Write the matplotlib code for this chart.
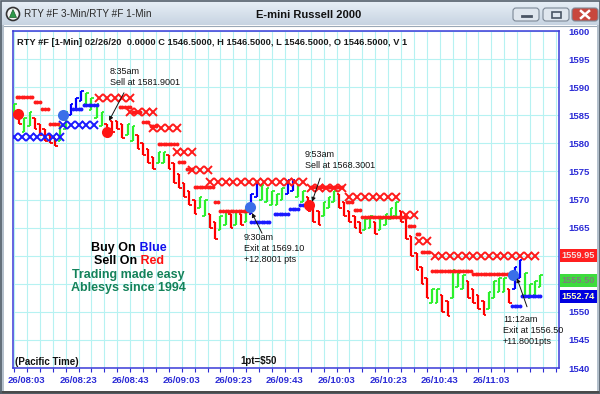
import numpy as np
import matplotlib
matplotlib.use("Agg")
import matplotlib.pyplot as plt
from matplotlib.patches import Rectangle, FancyBboxPatch, Circle, Polygon
from matplotlib.colors import LinearSegmentedColormap

plt.rcParams['font.family'] = ['Liberation Sans', 'DejaVu Sans']

# ---- data (time = minutes after 08:00, one bar every 2 minutes) ----
bar_t = list(range(-2, 203, 2))
bar_lo = [1585.0, 1583.5, 1582.0, 1583.0, 1582.5, 1581.5, 1580.5, 1580.0, 1579.5, 1580.5,
          1582.5, 1585.0, 1586.0, 1587.5, 1587.0, 1586.0, 1584.5, 1583.0, 1581.5, 1582.0,
          1582.5, 1581.0, 1581.5, 1580.5, 1579.0, 1578.0, 1576.5, 1575.5, 1576.5, 1576.5,
          1575.5, 1573.0, 1572.0, 1570.5, 1569.0, 1567.5, 1568.5, 1567.0, 1565.0, 1563.0,
          1564.5, 1565.5, 1565.0, 1565.5, 1565.5, 1566.0, 1567.5, 1570.5, 1570.0, 1569.5,
          1569.0, 1569.0, 1570.0, 1571.0, 1571.5, 1570.5, 1569.5, 1568.0, 1566.0, 1565.5,
          1567.0, 1568.5, 1569.5, 1568.5, 1567.0, 1566.0, 1565.0, 1564.0, 1564.5, 1565.0,
          1563.8, 1564.5, 1565.5, 1566.5, 1567.0, 1566.0, 1563.0, 1560.0, 1557.5, 1555.0,
          1552.5, 1551.5, 1551.5, 1550.0, 1549.3, 1552.5, 1554.5, 1554.0, 1552.5, 1551.5,
          1550.5, 1549.5, 1550.5, 1552.5, 1553.5, 1553.5, 1551.5, 1554.0, 1556.0, 1553.0,
          1552.5, 1553.0, 1554.5]
bar_hi = [1587.0, 1586.0, 1584.5, 1585.5, 1584.5, 1583.5, 1582.5, 1581.5, 1581.0, 1583.0,
          1585.5, 1587.0, 1588.0, 1589.3, 1589.0, 1588.0, 1587.0, 1585.5, 1583.5, 1584.0,
          1584.0, 1583.5, 1583.5, 1583.0, 1581.5, 1580.0, 1579.0, 1577.5, 1578.5, 1578.5,
          1578.0, 1576.5, 1574.5, 1573.0, 1571.5, 1570.0, 1570.5, 1570.0, 1567.5, 1566.0,
          1567.0, 1568.0, 1567.5, 1568.0, 1567.5, 1568.5, 1571.0, 1573.0, 1572.5, 1572.0,
          1571.5, 1571.0, 1572.0, 1573.5, 1573.5, 1572.5, 1571.5, 1570.5, 1568.5, 1568.0,
          1569.5, 1570.5, 1571.5, 1571.0, 1569.5, 1568.0, 1567.0, 1566.0, 1566.5, 1567.0,
          1566.0, 1566.5, 1567.5, 1568.5, 1569.5, 1568.0, 1567.0, 1563.5, 1560.5, 1558.0,
          1556.0, 1554.0, 1554.0, 1553.0, 1552.0, 1557.5, 1557.0, 1556.5, 1555.5, 1554.0,
          1553.0, 1552.0, 1553.5, 1555.5, 1556.0, 1556.0, 1554.0, 1558.0, 1559.3, 1557.0,
          1555.0, 1555.5, 1556.5]
bar_col = ("grggrrrrrg" "gbbbggggrr" "rrggrrrrgg" "rrrrrrggrr" "ggrgrgbbgg"
           "gggbbggrrr" "gggrrrrrgg" "rggggrrrrr" "rggrrgggrr" "rrggggrbbg" "ggg")

# trailing stops drawn as X marks (start, end, level), every 3 minutes
red_x = [(31, 43, 1588.1), (43, 52, 1585.5), (52, 61, 1582.8), (61, 67, 1578.5),
         (67, 73, 1575.2), (74, 112, 1573.2), (113, 127, 1572.1), (128, 147, 1570.5),
         (150, 154, 1567.3), (155, 160, 1562.6), (161, 202, 1559.95)]
blue_x = [(-2, 16, 1581.2), (17, 31, 1583.3)]

# dotted stop lines (start, end, level), every minute
red_dots = [(-1, 5, 1588.3), (6, 8, 1587.3), (9, 11, 1586.2), (12, 15, 1583.5),
            (39, 43, 1586.4), (44, 47, 1585.6), (48, 50, 1583.8), (51, 53, 1583.0),
            (54, 61, 1579.8), (62, 64, 1576.7), (65, 67, 1575.5), (68, 75, 1572.2),
            (76, 77, 1569.5), (78, 89, 1567.9), (113, 125, 1572.3), (127, 129, 1569.5),
            (130, 132, 1568.2), (133, 150, 1566.8), (151, 153, 1565.3), (154, 155, 1563.8),
            (156, 159, 1560.6), (160, 175, 1557.2), (176, 191, 1556.7)]
blue_dots = [(21, 24, 1586.2), (25, 30, 1586.8), (90, 97, 1566.0), (99, 104, 1567.4),
             (105, 108, 1568.3), (109, 112, 1569.0), (191, 194, 1551.0), (195, 202, 1552.74)]

# entry / exit signals
sig_t = [-0.5, 17, 34, 89.5, 112.5, 191.5]
sig_p = [1585.2, 1585.0, 1582.0, 1568.6, 1569.0, 1556.6]
sig_c = ['r', 'b', 'r', 'b', 'r', 'b']

notes = ["8:35am\nSell at 1581.9001",
         "9:30am\nExit at 1569.10\n+12.8001 pts",
         "9:53am\nSell at 1568.3001",
         "11:12am\nExit at 1556.50\n+11.8001pts"]

xlab = ['26/08:03', '26/08:23', '26/08:43', '26/09:03', '26/09:23',
        '26/09:43', '26/10:03', '26/10:23', '26/10:43', '26/11:03']
yticks = [1540, 1545, 1550, 1555, 1560, 1565, 1570, 1575, 1580, 1585, 1590, 1595, 1600]
hidden_ylab = [1555, 1560]   # covered by the value tags

tags = [1559.95, 1555.50, 1552.74]
tag_bg = ['#ff1f1f', '#3ddc3d', '#0000e0']
tag_fg = ['#f3dede', '#7d7d7d', '#ffffc0']

COL = {'r': '#ff0000', 'g': '#2bf02b', 'b': '#0000ff'}
AXBLUE = '#2b2bd6'

fig = plt.figure(figsize=(6, 3.94), dpi=100)
fig.patch.set_facecolor('white')
ax = fig.add_axes([13 / 600, 1 - 368 / 394, 546 / 600, 337 / 394])

# bars: vertical range with open/close ticks
for t, lo, hi, c in zip(bar_t, bar_lo, bar_hi, bar_col):
    col = COL[c]
    op, cl = (hi, lo) if c == 'r' else (lo, hi)
    ax.vlines(t, lo, hi, color=col, lw=1.6, zorder=3)
    ax.hlines(op, t - 1.0, t, color=col, lw=1.3, zorder=3)
    ax.hlines(cl, t, t + 1.0, color=col, lw=1.3, zorder=3)

for segs, col in [(red_x, '#ff1a1a'), (blue_x, '#1a1aff')]:
    for a, b, lev in segs:
        xs = np.arange(a, b + 0.1, 3)
        ax.plot(xs, [lev] * len(xs), ls='none', marker='x', ms=5.5, mew=1.4,
                color=col, zorder=4)

for segs, col in [(red_dots, '#ff1a1a'), (blue_dots, '#1a1aff')]:
    for a, b, lev in segs:
        xs = np.arange(a, b + 0.1, 1)
        ax.plot(xs, [lev] * len(xs), ls='none', marker='o', ms=2.8, mew=0,
                color=col, zorder=4)

sig_col = {'r': '#ff1414', 'b': '#3a6fe8'}
for t, p, c in zip(sig_t, sig_p, sig_c):
    ax.plot(t, p, 'o', ms=8, mew=0, color=sig_col[c], zorder=6)

# annotations: (text pos, arrow tail, arrow head) in data coords
note_pos = [(35.2, 1593.6), (87.1, 1564.0), (110.8, 1578.8), (187.5, 1549.4)]
arrow_tail = [(40.6, 1589.0), (94.1, 1564.0), (116.6, 1573.8), (196.8, 1550.9)]
arrow_head = [(34.8, 1584.0), (90.2, 1567.6), (113.5, 1569.6), (192.9, 1556.0)]
for txt, pos, tail, head in zip(notes, note_pos, arrow_tail, arrow_head):
    ax.text(pos[0], pos[1], txt, fontsize=6.5, va='top', ha='left',
            linespacing=1.3, color='#111111', zorder=7)
    ax.annotate('', xy=head, xytext=tail,
                arrowprops=dict(arrowstyle='-|>', color='#111111', lw=0.7,
                                mutation_scale=6, shrinkA=0, shrinkB=0), zorder=7)

ax.set_xlim(-2.4, 209.2)
ax.set_ylim(1540, 1600)

xpos = [(int(s[3:5]) - 8) * 60 + int(s[6:8]) for s in xlab]
ax.set_xticks(xpos)
ax.set_xticklabels(xlab)
ax.set_xticks(np.arange(-2, 209, 5), minor=True)
ax.tick_params(axis='x', which='both', direction='out', length=3, width=0.8,
               color=AXBLUE, labelsize=6.8, labelcolor=AXBLUE, pad=2.5)
for lbl in ax.get_xticklabels():
    lbl.set_fontweight('bold')

ax.yaxis.tick_right()
ax.set_yticks(yticks)
ax.set_yticklabels(['' if v in hidden_ylab else str(v) for v in yticks])
ax.tick_params(axis='y', length=0, pad=7, labelsize=6.8, labelcolor=AXBLUE)
for lbl in ax.get_yticklabels():
    lbl.set_fontweight('bold')

ax.grid(True, which='both', axis='x', color='#b6f2f2', lw=0.8, zorder=0)
ax.grid(True, which='major', axis='y', color='#b6f2f2', lw=0.8, zorder=0)
ax.set_axisbelow(True)
for sp in ax.spines.values():
    sp.set_color('#3a3ad8')
    sp.set_linewidth(1.1)

# ---- window chrome and free text, in pixel coords ----
ov = fig.add_axes([0, 0, 1, 1], zorder=5)
ov.set_axis_off()
ov.patch.set_alpha(0)
tb = LinearSegmentedColormap.from_list('tb', ['#e9f0f7', '#c7d4e2'])
ov.imshow(np.linspace(0, 1, 25)[:, None], extent=(0, 600, 25, 0), cmap=tb, aspect='auto')
ov.set_xlim(0, 600)
ov.set_ylim(394, 0)
ov.add_patch(Rectangle((0, 25), 4, 369, fc='#b4c0cc', ec='none'))
ov.add_patch(Rectangle((597, 25), 3, 369, fc='#b4c0cc', ec='none'))
ov.add_patch(Rectangle((0, 391), 600, 3, fc='#4a4a4a', ec='none'))
ov.add_patch(Rectangle((0.5, 0.5), 599, 393, fill=False, ec='#55606b', lw=1.2))
ov.plot([4, 596], [25.5, 25.5], color='#9aa8b6', lw=0.8)

# last-value tags on the right axis (drawn over the chrome)
def py(v):
    return 368 - (v - 1540) * 337 / 60

for v, bg, fg in zip(tags, tag_bg, tag_fg):
    ov.add_patch(Rectangle((560, py(v) - 6.5), 37, 13, fc=bg, ec='none', zorder=8))
    ov.text(578.5, py(v), f'{v:.2f}', ha='center', va='center',
            fontsize=6.6, fontweight='bold', color=fg, zorder=9)

# app icon
ov.add_patch(Circle((13, 14), 6.5, fc='#f4f4f4', ec='#333333', lw=1.2))
ov.add_patch(Polygon([(9.5, 17.5), (13, 9.5), (16.5, 17.5)], closed=True,
                     fc='#2e9a4a', ec='#1b5e2c', lw=0.5))
ov.text(24, 14, 'RTY #F 3-Min/RTY #F 1-Min', fontsize=7.2, color='#2a2a2a',
        ha='left', va='center')
ov.text(308.5, 15, 'E-mini Russell 2000', fontsize=8, fontweight='bold',
        color='#111111', ha='center', va='center')

# window buttons
for x0, fc in [(513, '#dfe6ee'), (543, '#dfe6ee'), (572, '#c8473d')]:
    ov.add_patch(FancyBboxPatch((x0, 8), 26, 13, boxstyle='round,pad=0,rounding_size=3',
                                fc=fc, ec='#7c8896', lw=0.8))
ov.plot([522, 531], [16, 16], color='#4a5564', lw=2)
ov.add_patch(Rectangle((551.5, 11.5), 9, 6, fill=False, ec='#4a5564', lw=1.2))
ov.plot([581, 589], [11, 18], color='white', lw=1.8)
ov.plot([581, 589], [18, 11], color='white', lw=1.8)

ov.text(17, 42, 'RTY #F [1-Min] 02/26/20  0.0000 C 1546.5000, H 1546.5000, '
        'L 1546.5000, O 1546.5000, V 1', fontsize=6.7, fontweight='bold',
        color='#1a1a1a', ha='left', va='center')
ov.text(15, 362, '(Pacific Time)', fontsize=7, fontweight='bold', color='#111111',
        ha='left', va='center')
ov.text(240, 361, '1pt=$50', fontsize=7, fontweight='bold', color='#111111',
        ha='left', va='center')

t1 = ov.text(91, 248, 'Buy On', fontsize=9, fontweight='bold', color='black',
             ha='left', va='center')
ov.annotate(' Blue', xy=(1, 0), xycoords=t1, fontsize=9, fontweight='bold',
            color='#1010ee', ha='left', va='bottom')
t2 = ov.text(93.5, 261.5, 'Sell On', fontsize=9, fontweight='bold', color='black',
             ha='left', va='center')
ov.annotate(' Red', xy=(1, 0), xycoords=t2, fontsize=9, fontweight='bold',
            color='#ff1010', ha='left', va='bottom')
ov.text(128.5, 275, 'Trading made easy', fontsize=9, fontweight='bold',
        color='#14825a', ha='center', va='center')
ov.text(128.5, 288.5, 'Ablesys since 1994', fontsize=9, fontweight='bold',
        color='#14825a', ha='center', va='center')

fig.savefig('out.png', dpi=100)
